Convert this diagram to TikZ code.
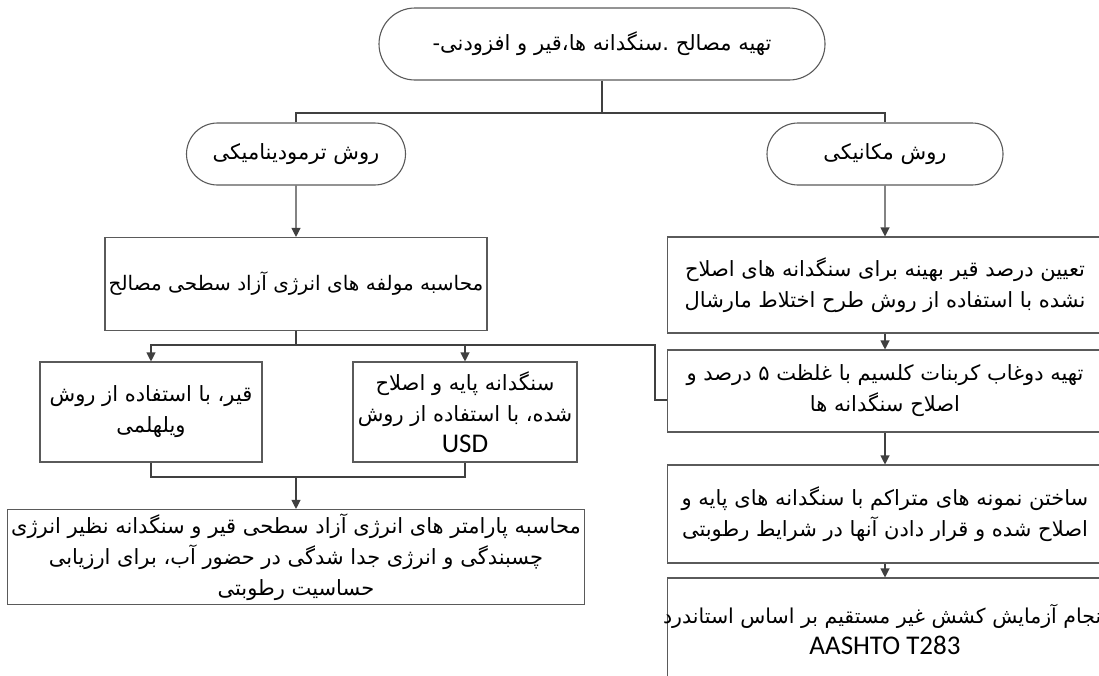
\documentclass[tikz,border=0pt]{standalone}
\usepackage{fontspec}
\setmainfont{Carlito}
\newfontfamily\farsi[Script=Arabic]{DejaVu Sans}
\TeXXeTstate=1
\usepackage{xcolor}
\definecolor{ink}{HTML}{404040}
\definecolor{edge}{HTML}{5A5A5A}
\usetikzlibrary{arrows.meta,shapes.misc}
\newcommand\fa[1]{{\farsi\beginR #1\endR}}
\newcommand\la[1]{{\fontsize{27}{31}\selectfont #1}}
\tikzset{
  >={Triangle[length=9pt,width=9pt]},
  box/.style={draw=edge,line width=1.1pt,inner sep=2pt,align=center,
    font=\fontsize{21}{31}\selectfont,text=black,fill=white},
  term/.style={box,rounded rectangle},
  arr/.style={->,draw=ink,line width=1.1pt},
  conn/.style={draw=ink,line width=1.1pt},
}
\begin{document}
\begin{tikzpicture}[x=1pt,y=-1pt]
\useasboundingbox (0,0) rectangle (1099,675);
% start and the two methods
\node[term,minimum width=450pt,minimum height=72pt] (top) at (602,44) {\fa{تهیه مصالح .سنگدانه ها،قیر و افزودنی-}};
\node[term,minimum width=223pt,minimum height=62pt] (thermo) at (296,154) {\fa{روش ترمودینامیکی}};
\node[term,minimum width=240pt,minimum height=62pt] (mech) at (885,154) {\fa{روش مکانیکی}};
% thermodynamic branch
\node[box,minimum width=382pt,minimum height=93pt,font=\fontsize{20}{31}\selectfont] (free) at (296,284) {\fa{محاسبه مولفه های انرژی آزاد سطحی مصالح}};
\node[box,minimum width=222pt,minimum height=100pt] (bit) at (151,412) {\fa{قیر، با استفاده از روش}\\\fa{ویلهلمی}};
\node[box,minimum width=224pt,minimum height=100pt] (agg) at (465,412) {\fa{سنگدانه پایه و اصلاح}\\\fa{شده، با استفاده از روش}\\\la{USD}};
\node[box,minimum width=577pt,minimum height=95pt] (sfe) at (296,557) {\fa{محاسبه پارامتر های انرژی آزاد سطحی قیر و سنگدانه نظیر انرژی}\\\fa{چسبندگی و انرژی جدا شدگی در حضور آب، برای ارزیابی}\\\fa{حساسیت رطوبتی}};
% mechanical branch
\node[box,minimum width=435pt,minimum height=96pt] (mix) at (885,285) {\fa{تعیین درصد قیر بهینه برای سنگدانه های اصلاح}\\\fa{نشده با استفاده از روش طرح اختلاط مارشال}};
\node[box,minimum width=435pt,minimum height=82pt] (coat) at (885,391) {\fa{تهیه دوغاب کربنات کلسیم با غلظت ۵ درصد و}\\\fa{اصلاح سنگدانه ها}};
\node[box,minimum width=435pt,minimum height=98pt] (spec) at (885,514) {\fa{ساختن نمونه های متراکم با سنگدانه های پایه و}\\\fa{اصلاح شده و قرار دادن آنها در شرایط رطوبتی}};
\node[box,minimum width=435pt,minimum height=102pt] (test) at (885,629) {\makebox[0pt]{\fontsize{20.5}{31}\selectfont\fa{انجام آزمایش کشش غیر مستقیم بر اساس استاندرد}}\\\la{AASHTO T283}};
% connectors
\coordinate (split) at (602,113);
\draw[conn] (top.south) -- (split);
\draw[conn] (thermo.north) |- (split) -| (mech.north);
\draw[arr] (thermo) -- (free);
\draw[arr] (mech) -- (mix);
\coordinate (fork) at (296,345);
\coordinate (link) at (655,345);
\coordinate (bend) at (655,400);
\draw[conn] (free.south) -- (fork);
\draw[arr] (fork) -| (bit.north);
\draw[arr] (fork) -| (agg.north);
\draw[conn] (fork) -- (link) -- (bend) -- (bend -| coat.west);
\coordinate (join) at (296,477);
\draw[conn] (bit.south) |- (join) -| (agg.south);
\draw[arr] (join) -- (sfe);
\foreach \u/\v in {mix/coat,coat/spec,spec/test} \draw[arr] (\u)--(\v);
\end{tikzpicture}
\end{document}
